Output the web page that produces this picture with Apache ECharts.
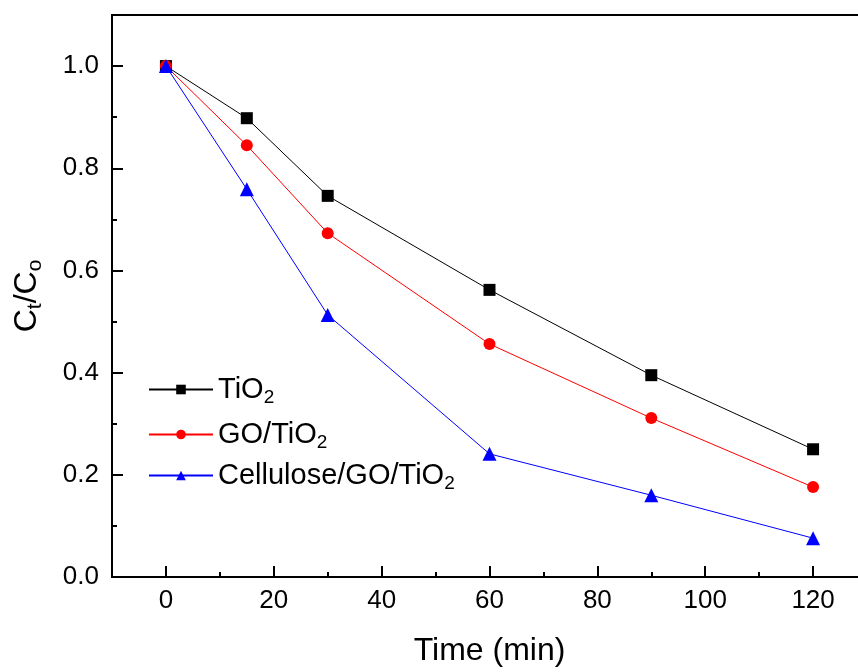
<!DOCTYPE html>
<html><head><meta charset="utf-8">
<script src="https://cdn.jsdelivr.net/npm/echarts@6/dist/echarts.min.js"></script>
<style>html,body{margin:0;padding:0;background:#fff;overflow:hidden}#wrap{width:858px;height:672px;overflow:hidden}#c{width:880px;height:672px}</style>
</head><body><div id="wrap"><div id="c"></div></div>
<script>
const times = [0, 15, 30, 60, 90, 120];
const tio2 = [1.0, 0.898, 0.746, 0.562, 0.395, 0.250];
const goTio2 = [1.0, 0.845, 0.673, 0.456, 0.311, 0.176];
const celluloseGoTio2 = [1.0, 0.759, 0.513, 0.241, 0.160, 0.076];
const xMajorTicks = [0, 20, 40, 60, 80, 100, 120];
const xMinorTicks = [10, 30, 50, 70, 90, 110];
const yMajorTicks = [0, 0.2, 0.4, 0.6, 0.8, 1.0];
const yMinorTicks = [0.1, 0.3, 0.5, 0.7, 0.9];
const seriesNames = ['TiO2', 'GO/TiO2', 'Cellulose/GO/TiO2'];
const legendLabels = {'TiO2': 'TiO{s|2}', 'GO/TiO2': 'GO/TiO{s|2}', 'Cellulose/GO/TiO2': 'Cellulose/GO/TiO{s|2}'};

const FONT = 'Liberation Sans, Arial, sans-serif';
const pairs = a => times.map((t, i) => [t, a[i]]);
const chart = echarts.init(document.getElementById('c'));
const legendRow = (name, top) => ({
  data: [name], left: 143, top: top, itemWidth: 64, itemHeight: 12, itemGap: 0,
  formatter: n => legendLabels[n],
  textStyle: {fontFamily: FONT, fontSize: 29, color: '#000',
    rich: {s: {fontFamily: FONT, fontSize: 19, color: '#000', padding: [16,0,0,0]}}}
});
const lineSeries = (name, data, color, symbol, size) => ({
  name, type: 'line', data: pairs(data), symbol, symbolSize: size,
  itemStyle: {color}, lineStyle: {color, width: 1}, z: 3
});
const AX = {fontFamily: FONT, color: '#000'};
chart.setOption({
  animation: false,
  backgroundColor: '#fff',
  grid: {left: 112, top: 15, height: 562, width: 755, outerBoundsMode: 'none', containLabel: false,
    show: true, borderColor: '#000', borderWidth: 2},
  legend: [legendRow(seriesNames[0], 370), legendRow(seriesNames[1], 415), legendRow(seriesNames[2], 456)],
  xAxis: [{
    type: 'value', min: -10, max: 130, position: 'bottom',
    name: 'Time (min)', nameLocation: 'middle', nameGap: 58,
    nameTextStyle: {...AX, fontSize: 32},
    axisLine: {show: true, onZero: false, lineStyle: {color: '#000', width: 2}},
    axisTick: {show: true, inside: true, length: 11, lineStyle: {color: '#000', width: 2}, customValues: xMajorTicks},
    axisLabel: {...AX, fontSize: 26, margin: 11, customValues: xMajorTicks},
    splitLine: {show: false}
  }, {
    type: 'value', min: -10, max: 130, position: 'bottom',
    axisLine: {show: false, onZero: false},
    axisTick: {show: true, inside: true, length: 5, lineStyle: {color: '#000', width: 2}, customValues: xMinorTicks},
    axisLabel: {show: false}, splitLine: {show: false}
  }],
  yAxis: [{
    type: 'value', min: 0, max: 1.1, position: 'left',
    name: 'C{s|t}/C{s|o}', nameLocation: 'middle', nameGap: 66,
    nameTextStyle: {...AX, fontSize: 32,
      rich: {s: {...AX, fontSize: 21, padding: [16,0,0,0]}}},
    axisLine: {show: true, onZero: false, lineStyle: {color: '#000', width: 2}},
    axisTick: {show: true, inside: true, length: 11, lineStyle: {color: '#000', width: 2}, customValues: yMajorTicks},
    axisLabel: {...AX, fontSize: 26, margin: 13, customValues: yMajorTicks, formatter: v => v.toFixed(1)},
    splitLine: {show: false}
  }, {
    type: 'value', min: 0, max: 1.1, position: 'left',
    axisLine: {show: false, onZero: false},
    axisTick: {show: true, inside: true, length: 5, lineStyle: {color: '#000', width: 2}, customValues: yMinorTicks},
    axisLabel: {show: false}, splitLine: {show: false}
  }],
  series: [
    lineSeries(seriesNames[0], tio2, '#000000', 'rect', 12),
    lineSeries(seriesNames[1], goTio2, '#ff0000', 'circle', 12),
    lineSeries(seriesNames[2], celluloseGoTio2, '#0000ff', 'triangle', 14)
  ]
});
</script></body></html>
